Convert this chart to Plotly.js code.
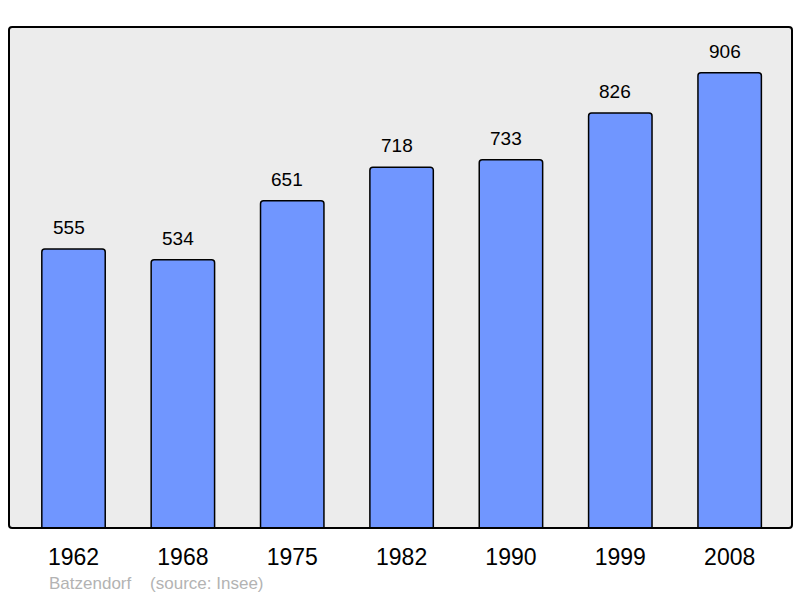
<!DOCTYPE html>
<html><head><meta charset="utf-8">
<script src="https://cdn.plot.ly/plotly-3.0.1.min.js"></script>
<style>html,body{margin:0;padding:0;background:#fff}#chart{width:800px;height:598px}</style>
</head><body><div id="chart"></div>
<script>
const years = ["1962","1968","1975","1982","1990","1999","2008"];
const population = [555,534,651,718,733,826,906];
const footer = "Batzendorf\u00a0\u00a0\u00a0\u00a0(source: Insee)";

const trace = {
  type: "bar", x: years, y: population, width: 0.58,
  marker: {color: "#7096ff", line: {color: "#000", width: 1.5}, cornerradius: 3},
  hoverinfo: "none"
};
const annotations = years.map((yr, i) => ({
  x: i, y: population[i], text: String(population[i]), showarrow: false,
  yanchor: "bottom", yshift: 9, xshift: -5,
  font: {family: "Liberation Sans, Arial, sans-serif", size: 19, color: "#000"}
}));
annotations.push({
  xref: "paper", yref: "paper", x: 0.049, y: -0.11, xanchor: "left", yanchor: "middle",
  text: footer, showarrow: false,
  font: {family: "Liberation Sans, Arial, sans-serif", size: 17, color: "#b3b3b3"}
});
const layout = {
  width: 800, height: 598,
  margin: {l: 9, r: 8, t: 27, b: 70},
  paper_bgcolor: "#fff", plot_bgcolor: "#ececec",
  showlegend: false,
  xaxis: {type: "category", range: [-0.59, 6.57], showgrid: false, zeroline: false, showline: false,
          ticks: "outside", ticklen: 8, tickcolor: "rgba(0,0,0,0)",
          tickfont: {family: "Liberation Sans, Arial, sans-serif", size: 23, color: "#000"}},
  yaxis: {range: [0, 997], showgrid: false, zeroline: false, showticklabels: false, showline: false},
  shapes: [{type: "path", xref: "paper", yref: "paper",
    path: "M 0.004 0 L 0.996 0 Q 1 0 1 0.006 L 1 0.994 Q 1 1 0.996 1 L 0.004 1 Q 0 1 0 0.994 L 0 0.006 Q 0 0 0.004 0 Z",
    line: {color: "#000", width: 2}, layer: "above"}],
  annotations: annotations
};
Plotly.newPlot("chart", [trace], layout, {staticPlot: true, displayModeBar: false});
</script></body></html>
